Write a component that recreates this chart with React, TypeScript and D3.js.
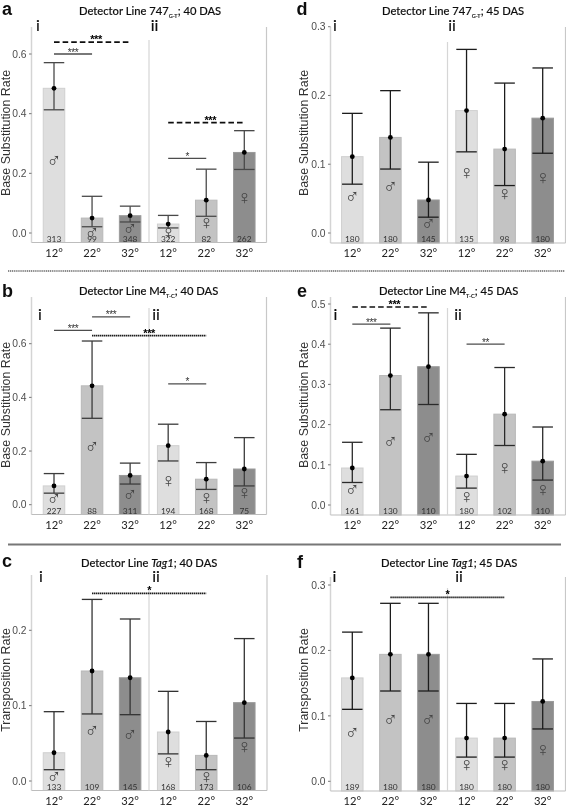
import React from "react";
import * as d3 from "d3";

const temps = ["12°", "22°", "32°", "12°", "22°", "32°"];
const sexes = ["♂", "♂", "♂", "♀", "♀", "♀"];
const shades = ["#dedede", "#c3c3c3", "#8d8d8d", "#dedede", "#c3c3c3", "#8d8d8d"];
const shadeEdges = ["#cfcfcf", "#b8b8b8", "#9a9a9a", "#cfcfcf", "#b8b8b8", "#9a9a9a"];

const aMean = [0.485, 0.05, 0.058, 0.03, 0.11, 0.27];
const aLow = [0.413, 0.021, 0.037, 0.017, 0.056, 0.213];
const aHigh = [0.571, 0.123, 0.09, 0.059, 0.214, 0.343];
const aN = [313, 99, 348, 322, 82, 262];
const aSym = [0.245, 0.005, 0.016, 0.002, 0.038, 0.122];

const bMean = [0.07, 0.443, 0.109, 0.22, 0.095, 0.133];
const bLow = [0.043, 0.322, 0.077, 0.163, 0.057, 0.07];
const bHigh = [0.116, 0.61, 0.155, 0.3, 0.157, 0.25];
const bN = [227, 88, 311, 194, 168, 75];
const bSym = [0.024, 0.219, 0.039, 0.092, 0.03, 0.046];

const cMean = [0.0375, 0.146, 0.137, 0.065, 0.034, 0.104];
const cLow = [0.015, 0.089, 0.088, 0.036, 0.015, 0.057];
const cHigh = [0.092, 0.241, 0.215, 0.119, 0.079, 0.189];
const cN = [133, 109, 145, 168, 173, 106];
const cSym = [0.007, 0.068, 0.063, 0.026, 0.007, 0.047];

const dMean = [0.111, 0.139, 0.048, 0.178, 0.122, 0.167];
const dLow = [0.071, 0.093, 0.023, 0.118, 0.069, 0.116];
const dHigh = [0.174, 0.207, 0.103, 0.267, 0.218, 0.24];
const dN = [180, 180, 145, 135, 98, 180];
const dSym = [0.054, 0.068, 0.015, 0.088, 0.058, 0.082];

const eMean = [0.092, 0.322, 0.344, 0.072, 0.226, 0.109];
const eLow = [0.056, 0.237, 0.25, 0.042, 0.148, 0.062];
const eHigh = [0.156, 0.44, 0.478, 0.126, 0.342, 0.194];
const eN = [161, 130, 110, 180, 102, 110];
const eSym = [0.04, 0.158, 0.169, 0.023, 0.095, 0.041];

const fMean = [0.158, 0.194, 0.194, 0.066, 0.066, 0.122];
const fLow = [0.11, 0.138, 0.138, 0.037, 0.037, 0.08];
const fHigh = [0.228, 0.272, 0.272, 0.119, 0.119, 0.187];
const fN = [189, 180, 180, 180, 180, 180];
const fSym = [0.076, 0.095, 0.095, 0.026, 0.026, 0.049];

type Sig = { from: number; to: number; at: number; kind: "solid" | "dash" | "dot"; stars: string };

const aSig: Sig[] = [
  { from: 0, to: 1, at: 0.6, kind: "solid", stars: "***" },
  { from: 0, to: 2, at: 0.64, kind: "dash", stars: "***" },
  { from: 3, to: 4, at: 0.25, kind: "solid", stars: "*" },
  { from: 3, to: 5, at: 0.37, kind: "dash", stars: "***" },
];
const bSig: Sig[] = [
  { from: 0, to: 1, at: 0.65, kind: "solid", stars: "***" },
  { from: 1, to: 2, at: 0.7, kind: "solid", stars: "***" },
  { from: 1, to: 4, at: 0.63, kind: "dot", stars: "***" },
  { from: 3, to: 4, at: 0.45, kind: "solid", stars: "*" },
];
const cSig: Sig[] = [{ from: 1, to: 4, at: 0.249, kind: "dot", stars: "*" }];
const dSig: Sig[] = [];
const eSig: Sig[] = [
  { from: 0, to: 1, at: 0.45, kind: "solid", stars: "***" },
  { from: 0, to: 2, at: 0.4925, kind: "dash", stars: "***" },
  { from: 3, to: 4, at: 0.4, kind: "solid", stars: "**" },
];
const fSig: Sig[] = [{ from: 1, to: 4, at: 0.281, kind: "dot", stars: "*" }];

const baseLabel = "Base Substitution Rate";
const transLabel = "Transposition Rate";

const smallTicks = [0, 0.2, 0.4, 0.6];
const tenthTicks = [0, 0.1, 0.2, 0.3];
const fifthTicks = [0, 0.1, 0.2, 0.3, 0.4, 0.5];
const tagTicks = [0, 0.1, 0.2];

const SANS = "'Liberation Sans', Arial, sans-serif";
const CAL = "Lato, 'Open Sans', sans-serif";

type P = {
  letter: string; pre: string; sub?: string; ital?: string; post: string;
  mean: number[]; low: number[]; high: number[]; n: number[]; sym: number[]; sig: Sig[];
  ticks: number[]; ylabel: string;
  left: number; right: number; top: number; bottom: number; y0: number; yRef: number; refVal: number;
  c0: number; c5: number; div: number; divTop: number; labelY: number;
  titleX: number; titleY: number; letterX: number; letterY: number; iX: number; iiX: number; iY: number;
  ylabX: number; ink: string; tickX: number;
};

const panels: P[] = [
  { letter: "a", pre: "Detector Line 747", sub: "G-T", post: "; 40 DAS", mean: aMean, low: aLow, high: aHigh, n: aN, sym: aSym, sig: aSig,
    ticks: smallTicks, ylabel: baseLabel, left: 31.5, right: 266.5, top: 27, bottom: 242.5, y0: 233, yRef: 54, refVal: 0.6,
    c0: 54, c5: 244.3, div: 149, divTop: 40, labelY: 133, titleX: 79, titleY: 15, letterX: 2, letterY: 14.5, iX: 38, iiX: 154.5, iY: 30.5, ylabX: 9.5, ink: "#4a4a4a", tickX: 26.5 },
  { letter: "d", pre: "Detector Line 747", sub: "G-T", post: "; 45 DAS", mean: dMean, low: dLow, high: dHigh, n: dN, sym: dSym, sig: dSig,
    ticks: tenthTicks, ylabel: baseLabel, left: 330.5, right: 565.5, top: 27, bottom: 243, y0: 233, yRef: 26.7, refVal: 0.3,
    c0: 352.3, c5: 542.7, div: 447.5, divTop: 42, labelY: 133, titleX: 382, titleY: 15, letterX: 296.5, letterY: 14.5, iX: 335, iiX: 452, iY: 30.5, ylabX: 308, ink: "#1e1e1e", tickX: 325.5 },
  { letter: "b", pre: "Detector Line M4", sub: "T-C", post: "; 40 DAS", mean: bMean, low: bLow, high: bHigh, n: bN, sym: bSym, sig: bSig,
    ticks: smallTicks, ylabel: baseLabel, left: 31.5, right: 266.5, top: 297, bottom: 514.5, y0: 504.7, yRef: 343.7, refVal: 0.6,
    c0: 54, c5: 244.3, div: 149, divTop: 308, labelY: 405, titleX: 79, titleY: 295, letterX: 2, letterY: 297, iX: 40, iiX: 156, iY: 320, ylabX: 9.5, ink: "#3c3c3c", tickX: 26.5 },
  { letter: "e", pre: "Detector Line M4", sub: "T-C", post: "; 45 DAS", mean: eMean, low: eLow, high: eHigh, n: eN, sym: eSym, sig: eSig,
    ticks: fifthTicks, ylabel: baseLabel, left: 330.5, right: 565.5, top: 297, bottom: 515, y0: 505, yRef: 304, refVal: 0.5,
    c0: 352.3, c5: 542.7, div: 447.5, divTop: 308, labelY: 405, titleX: 379, titleY: 295, letterX: 297, letterY: 297, iX: 335.5, iiX: 458, iY: 320, ylabX: 308, ink: "#2a2a2a", tickX: 325.5 },
  { letter: "c", pre: "Detector Line ", ital: "Tag1", post: "; 40 DAS", mean: cMean, low: cLow, high: cHigh, n: cN, sym: cSym, sig: cSig,
    ticks: tagTicks, ylabel: transLabel, left: 31.5, right: 267, top: 575, bottom: 790.5, y0: 781, yRef: 630.3, refVal: 0.2,
    c0: 54, c5: 244.3, div: 149, divTop: 590, labelY: 680, titleX: 81, titleY: 567, letterX: 2, letterY: 567, iX: 41, iiX: 156, iY: 582, ylabX: 9.5, ink: "#333333", tickX: 26.5 },
  { letter: "f", pre: "Detector Line ", ital: "Tag1", post: "; 45 DAS", mean: fMean, low: fLow, high: fHigh, n: fN, sym: fSym, sig: fSig,
    ticks: tenthTicks, ylabel: transLabel, left: 330.5, right: 565.5, top: 577, bottom: 791, y0: 781.3, yRef: 585, refVal: 0.3,
    c0: 352.3, c5: 542.7, div: 447.5, divTop: 588, labelY: 680, titleX: 381, titleY: 567, letterX: 297, letterY: 568, iX: 334.5, iiX: 459, iY: 582, ylabX: 308, ink: "#1e1e1e", tickX: 325.5 },
];

function Panel({ p }: { p: P }) {
  const y = d3.scaleLinear().domain([0, p.refVal]).range([p.y0, p.yRef]);
  const x = d3.scalePoint<number>().domain(d3.range(6)).range([p.c0, p.c5]);
  const barW = 21.5;
  const capW = 20.5;
  const fmt = d3.format(".1f");
  return (
    <g>
      <text x={p.letterX} y={p.letterY} fontFamily={SANS} fontWeight={700} fontSize={18} fill="#111">{p.letter}</text>
      <text x={p.titleX} y={p.titleY} fontFamily={CAL} fontSize={11.2} fontWeight={500} fill="#111" stroke="#111" strokeWidth={0.15}>
        {p.pre}
        {p.ital ? <tspan fontStyle="italic">{p.ital}</tspan> : null}
        {p.sub ? <tspan fontSize={5.5} dy={2.5}>{p.sub}</tspan> : null}
        <tspan dy={p.sub ? -2.5 : 0}>{p.post}</tspan>
      </text>

      {temps.map((_, i) => (
        <rect key={i} x={x(i)! - barW / 2} width={barW} y={y(p.mean[i])} height={p.bottom - y(p.mean[i])}
          fill={shades[i]} stroke={shadeEdges[i]} strokeWidth={1} />
      ))}

      <line x1={p.left} x2={p.left} y1={p.top} y2={p.bottom} stroke="#d4d4d4" strokeWidth={1.5} />
      <line x1={p.right} x2={p.right} y1={p.top} y2={p.bottom} stroke="#c8c8c8" strokeWidth={1.2} />
      <line x1={p.left} x2={p.right} y1={p.bottom} y2={p.bottom} stroke="#bdbdbd" strokeWidth={1.2} />
      <line x1={p.div} x2={p.div} y1={p.divTop} y2={p.bottom} stroke="#d6d6d6" strokeWidth={1.2} />

      {p.ticks.map((t) => (
        <g key={t}>
          <line x1={p.left - 2.5} x2={p.left} y1={y(t)} y2={y(t)} stroke="#555" strokeWidth={0.8} />
          <text x={p.tickX} y={y(t) + 3.7} textAnchor="end" fontFamily={SANS} fontSize={10.3} fill="#4d4d4d">{fmt(t)}</text>
        </g>
      ))}

      <text transform={`translate(${p.ylabX},${p.labelY}) rotate(-90)`} textAnchor="middle" fontFamily={SANS} fontSize={12.4} fill="#333">{p.ylabel}</text>

      <text x={p.iX} y={p.iY} textAnchor="middle" fontFamily={CAL} fontSize={16} fill="#111" stroke="#111" strokeWidth={0.2}>i</text>
      <text x={p.iiX} y={p.iY} textAnchor="middle" fontFamily={CAL} fontSize={16} fill="#111" stroke="#111" strokeWidth={0.2}>ii</text>

      {temps.map((t, i) => (
        <text key={i} x={x(i)} y={p.bottom + 14} textAnchor="middle" fontFamily={CAL} fontSize={11.2} fill="#222">{t}</text>
      ))}

      {temps.map((_, i) => (
        <text key={i} x={x(i)} y={y(p.sym[i]) + 7} textAnchor="middle" fontFamily="'DejaVu Sans', sans-serif" fontWeight={200} fontSize={20} fill="#444">{sexes[i]}</text>
      ))}

      {temps.map((_, i) => (
        <text key={i} x={x(i)} y={p.bottom - 0.8} textAnchor="middle" fontFamily={CAL} fontSize={8.4} fill="#333">{p.n[i]}</text>
      ))}

      {temps.map((_, i) => (
        <g key={i} stroke={p.ink} strokeWidth={1.3}>
          <line x1={x(i)} x2={x(i)} y1={y(p.low[i])} y2={y(p.high[i])} />
          <line x1={x(i)! - capW / 2} x2={x(i)! + capW / 2} y1={y(p.low[i])} y2={y(p.low[i])} />
          <line x1={x(i)! - capW / 2} x2={x(i)! + capW / 2} y1={y(p.high[i])} y2={y(p.high[i])} />
        </g>
      ))}
      {temps.map((_, i) => (
        <circle key={i} cx={x(i)} cy={y(p.mean[i])} r={2.4} fill="#000" />
      ))}

      {p.sig.map((s, k) => {
        const x1 = x(s.from)!;
        const x2 = x(s.to)!;
        const yy = y(s.at);
        const dash = s.kind === "dash" ? "5.6 3" : s.kind === "dot" ? "1.4 0.6" : undefined;
        const col = s.kind === "solid" ? "#4d4d4d" : "#111";
        const sw = s.kind === "solid" ? 1.3 : s.kind === "dash" ? 1.7 : 1.7;
        const shift = s.kind === "dash" ? 4 : 0;
        return (
          <g key={k}>
            <line x1={x1} x2={x2 + (s.kind === "dash" ? 1 : 0)} y1={yy} y2={yy} stroke={col} strokeWidth={sw} strokeDasharray={dash} />
            <text x={(x1 + x2) / 2 + shift} y={yy + (s.kind === "solid" ? 1.5 : 1)} textAnchor="middle" fontFamily={SANS}
              fontWeight={s.kind === "solid" ? 400 : 700} fontSize={s.kind === "solid" ? 10 : 11} letterSpacing={-0.4} fill={s.kind === "solid" ? "#333" : "#000"}>{s.stars}</text>
          </g>
        );
      })}
    </g>
  );
}

export default function App() {
  return (
    <svg width={566} height={806} viewBox="0 0 566 806" style={{ position: "absolute", left: 0, top: 0, background: "#fff" }}>
      <defs>
        <filter id="soft" x="0" y="0" width="100%" height="100%">
          <feGaussianBlur stdDeviation={0.3} />
        </filter>
      </defs>
      <g filter="url(#soft)">
        <rect width={566} height={806} fill="#fff" />
        <line x1={8} x2={565} y1={271} y2={271} stroke="#666" strokeWidth={1.4} strokeDasharray="1.2 0.7" />
        <line x1={8} x2={561} y1={544.5} y2={544.5} stroke="#777" strokeWidth={2} />
        {panels.map((p) => <Panel key={p.letter} p={p} />)}
      </g>
    </svg>
  );
}
